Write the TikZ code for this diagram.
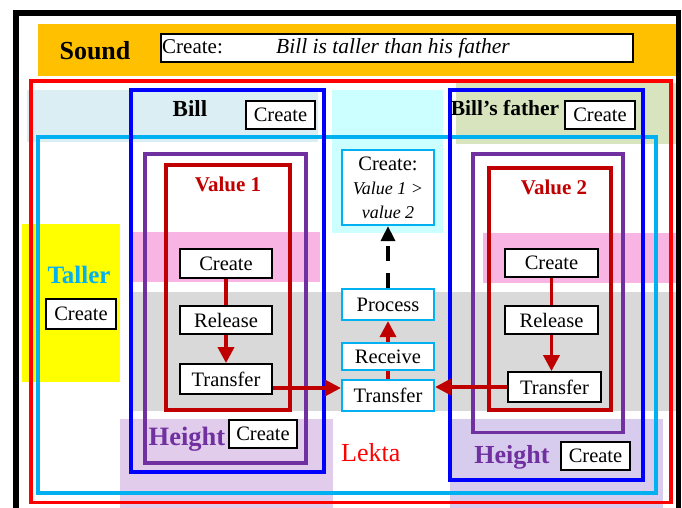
\documentclass[tikz,border=0pt]{standalone}
\usepackage{fontspec}
\setmainfont{Liberation Serif}
\usetikzlibrary{arrows.meta}
\definecolor{orangeb}{RGB}{255,192,0}
\definecolor{lbband}{RGB}{218,238,243}
\definecolor{cyanband}{RGB}{204,255,255}
\definecolor{oliveband}{RGB}{215,228,189}
\definecolor{pinkb}{RGB}{248,180,226}
\definecolor{grayb}{RGB}{217,217,217}
\definecolor{lavL}{RGB}{226,204,236}
\definecolor{lavR}{RGB}{216,204,238}
\definecolor{cyanc}{RGB}{0,176,240}
\definecolor{purplec}{RGB}{112,48,160}
\definecolor{darkred}{RGB}{192,0,0}
\definecolor{yellowb}{RGB}{255,255,0}
\begin{document}
\begin{tikzpicture}[x=1pt,y=-1pt,
  box/.style={draw=black,line width=1.8pt,fill=white,inner sep=0pt,font=\fontsize{20.5}{24}\selectfont},
  cbox/.style={draw=cyanc,line width=2.2pt,fill=white,inner sep=0pt,minimum width=92pt,font=\fontsize{20.5}{24}\selectfont},
  lbl/.style={inner sep=0pt,anchor=base},
  redln/.style={draw=darkred,line width=3.5pt},
  redarr/.style={draw=darkred,line width=3.5pt,-{Triangle[length=16pt,width=16pt]}},
  dasharr/.style={draw=black,line width=3.5pt,dash pattern=on 15pt off 12pt,-{Triangle[length=15pt,width=14pt]}},
  bluefr/.style={draw=blue,line width=4pt},
  purplefr/.style={draw=purplec,line width=3.5pt},
  darkredfr/.style={draw=darkred,line width=4pt},
]
\useasboundingbox (0,0) rectangle (682,508);
% outer black frame
\draw[line width=5.5pt] (16,13) rectangle (678.5,540);
% background bands
\fill[orangeb] (38,24) rectangle (676,76);
\fill[lbband] (27,90) rectangle (318,142);
\fill[cyanband] (332,90) rectangle (443,233);
\fill[oliveband] (456,83) rectangle (676,144);
\fill[yellowb] (22,224) rectangle (120,382);
\fill[pinkb] (133,232) rectangle (320,282);
\fill[pinkb] (483,233) rectangle (676,283);
\fill[grayb] (133,292) rectangle (676,411);
\fill[lavL] (120,419) rectangle (333,515);
\fill[lavR] (450,419) rectangle (663,515);
% frames
\draw[draw=cyanc,line width=3.5pt] (38,137) rectangle (656,493);
\draw[draw=red,line width=3.5pt] (31,81) rectangle (671,502.3);
\draw[bluefr] (131,90) rectangle (324,472);
\draw[bluefr] (450,90) rectangle (642.5,480);
\draw[purplefr] (145,154) rectangle (306,463);
\draw[purplefr] (473,154) rectangle (623,432.5);
\draw[darkredfr] (166,165) rectangle (290,410);
\draw[darkredfr] (488.5,168) rectangle (611,410);
% Sound
\node[lbl,font=\bfseries\fontsize{26}{30}\selectfont] (sound) at (95,60) {Sound};
\node[box,minimum width=472pt,minimum height=28pt] (sbox) at (397,48) {};
\node[lbl,anchor=base west,font=\fontsize{21}{24}\selectfont] (sc) at (162,54) {Create:};
\node[lbl,font=\itshape\fontsize{21.5}{24}\selectfont] (st) at (393,54) {Bill is taller than his father};
% headers
\node[lbl,font=\bfseries\fontsize{23}{26}\selectfont] (bill) at (190,117) {Bill};
\node[lbl,font=\bfseries\fontsize{21.5}{26}\selectfont] (father) at (505,116) {Bill’s father};
\node[box,minimum width=69pt,minimum height=28pt] (billc) at (280.5,115) {Create};
\node[box,minimum width=70pt,minimum height=28pt] (fatherc) at (600,115) {Create};
% values
\node[lbl,text=darkred,font=\bfseries\fontsize{21}{24}\selectfont] (v1) at (228,191) {Value 1};
\node[lbl,text=darkred,font=\bfseries\fontsize{21}{24}\selectfont] (v2) at (554,194) {Value 2};
% Taller
\node[lbl,text=cyanc,font=\bfseries\fontsize{25}{28}\selectfont] (taller) at (79,283) {Taller};
\node[box,minimum width=70pt,minimum height=30pt] (tallc) at (81,314) {Create};
% Height
\node[lbl,text=purplec,font=\bfseries\fontsize{26.5}{30}\selectfont] (bh) at (187,445) {Height};
\node[box,minimum width=68pt,minimum height=28pt] (bhc) at (263,434) {Create};
\node[lbl,text=purplec,font=\bfseries\fontsize{26}{30}\selectfont] (fh) at (512,463) {Height};
\node[box,minimum width=69pt,minimum height=28pt] (fhc) at (595.5,456) {Create};
% Lekta
\node[lbl,anchor=base west,text=red,font=\fontsize{26}{30}\selectfont] (lekta) at (341,461) {Lekta};
% Bill inner boxes
\node[box,minimum width=92pt,minimum height=29pt] (bcr) at (226,263.5) {Create};
\node[box,minimum width=92pt,minimum height=28pt] (brl) at (226,320) {Release};
\node[box,minimum width=92pt,minimum height=30pt] (btr) at (226,379) {Transfer};
% Father inner boxes
\node[box,minimum width=93pt,minimum height=28pt] (fcr) at (551.5,263) {Create};
\node[box,minimum width=93pt,minimum height=28pt] (frl) at (551.5,320) {Release};
\node[box,minimum width=93pt,minimum height=30pt] (ftr) at (554.5,387) {Transfer};
% center column
\node[cbox,minimum height=75pt,align=center] (cv) at (388,187.5) {Create:\\{\itshape\fontsize{18}{21.5}\selectfont Value 1 >}\\{\itshape\fontsize{18}{21.5}\selectfont value 2}};
\node[cbox,minimum height=31pt] (cp) at (388,304.5) {Process};
\node[cbox,minimum height=27pt] (crc) at (388,356.5) {Receive};
\node[cbox,minimum height=31pt] (ctr) at (388,395.5) {Transfer};
% connectors
\draw[redln] (bcr) -- (brl);
\draw[redarr] (brl) -- (btr);
\draw[redarr] ([yshift=-9pt]btr.east) -- ([yshift=-9pt]btr.east -| ctr.west);
\draw[redln] (fcr) -- (frl);
\draw[redarr] (frl.south) -- (frl.south |- ftr.north);
\draw[redarr] (ftr.west) -- (ftr.west -| ctr.east);
\draw[redln] (ctr) -- (crc);
\draw[redarr] (crc) -- (cp);
\draw[dasharr] (cp) -- (cv);
\end{tikzpicture}
\end{document}
